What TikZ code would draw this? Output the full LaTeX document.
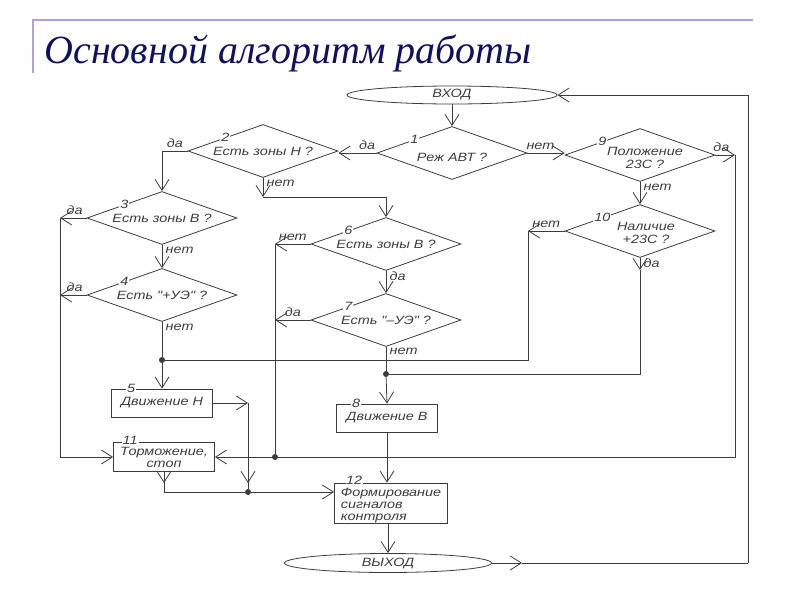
\documentclass[tikz,border=0pt]{standalone}
\usepackage{fontspec}
\setmainfont{Liberation Serif}
\newfontfamily\cadfont{Liberation Sans}[FakeStretch=1.2]
\usepackage{tikz}
\usetikzlibrary{arrows.meta,shapes.geometric}
\definecolor{titleblue}{RGB}{16,16,96}
\definecolor{rulepurple}{RGB}{178,160,226}
\definecolor{linegray}{RGB}{60,60,60}

\begin{document}
\begin{tikzpicture}[x=1pt,y=-1pt,->,>={Straight Barb[length=11pt,width=14pt]},
  line width=0.8pt,color=linegray,
  every node/.style={font=\cadfont\itshape\fontsize{12}{13}\selectfont},
  dec/.style={diamond,draw,align=center,minimum width=150pt,minimum height=53pt,inner sep=0pt,aspect=2.8},
  box/.style={rectangle,draw,align=center,minimum width=101pt,minimum height=28pt,inner sep=1pt},
  term/.style={ellipse,draw,minimum width=210pt,minimum height=18pt,inner sep=0pt},
  num/.style={fill=white,inner sep=1pt},
  dot/.style={circle,fill=linegray,inner sep=0pt,minimum size=6pt}]

  \useasboundingbox (0,0) rectangle (800,600);

  % title
  \draw[-,rulepurple,line width=1.5pt] (33,73) -- (33,20) -- (753,20);
  \node[anchor=base west,inner sep=0pt,text=titleblue,font=\rmfamily\itshape\fontsize{40}{46}\selectfont] (title) at (44,63) {Основной алгоритм работы};

  % blocks
  \node[term] (vhod) at (452,95) {ВХОД};
  \node[dec,label={[yshift=-4pt]center:Реж АВТ ?}] (d1) at (452,153) {};
  \node[dec] (d2) at (263,151) {Есть зоны Н ?};
  \node[dec] (d3) at (162,218) {Есть зоны В ?};
  \node[dec] (d4) at (162,295) {Есть "+УЭ" ?};
  \node[dec] (d6) at (386,244) {Есть зоны В ?};
  \node[dec] (d7) at (386,320) {Есть "–УЭ" ?};
  \node[dec,label={[align=center,xshift=5pt,yshift=-3pt]center:{Положение\\23С ?}}] (d9) at (640,155) {};
  \node[dec,label={[align=center,xshift=6pt,yshift=-2pt]center:{Наличие\\+23С ?}}] (d10) at (640,231) {};
  \node[box] (b5) at (162,403) {Движение Н};
  \node[box,minimum height=29pt,font=\cadfont\itshape\fontsize{12}{12}\selectfont] (b11) at (164,457) {Торможение,\\стоп};
  \node[box] (b8) at (387,418) {Движение В};
  \node[box,minimum width=113pt,minimum height=40pt,
    label={[align=left,yshift=-3pt,font=\cadfont\itshape\fontsize{12}{12}\selectfont]center:{Формирование\\сигналов\\контроля}}] (b12) at (391,503) {};
  \node[term,minimum width=207pt,minimum height=19pt] (vyhod) at (388,563) {ВЫХОД};

  % numbers
  \node[num] at (d1.north west) {1};
  \node[num] at (d2.north west) {2};
  \node[num] at (d3.north west) {3};
  \node[num] at (d4.north west) {4};
  \node[num] at (d6.north west) {6};
  \node[num] at (d7.north west) {7};
  \node[num] at (d9.north west) {9};
  \node[num] at (d10.north west) {10};
  \node[num,xshift=20pt] at (b5.north west) {5};
  \node[num,xshift=17pt,yshift=2pt] at (b11.north west) {11};
  \node[num,xshift=20pt] at (b8.north west) {8};
  \node[num,xshift=20pt,yshift=2pt,inner sep=0.5pt] at (b12.north west) {12};

  % junctions
  \node[dot] (j1) at (162,360) {};
  \node[dot] (j2) at (386,374) {};
  \node[dot] (j3) at (275,457) {};
  \node[dot] (j4) at (248,492) {};
  \coordinate (c2) at (263,197);
  \coordinate (cl) at (60,218);
  \coordinate (c6) at (275,244);
  \coordinate (c9) at (735,155);
  \coordinate (c10) at (528,231);
  \coordinate (c10b) at (640,270);
  \coordinate (c5) at (248,403);
  \coordinate (c11) at (164,492);
  \coordinate (c12) at (522,563);
  \coordinate (cr) at (748,563);

  % connectors
  \draw (vhod.south) -- (d1.north);
  \draw (d1.west) -- node[above,pos=0.25] {да} (d1.west -| d2.east);
  \draw (d1.east) -- node[above,pos=0.35] {нет} (d1.east -| d9.west);
  \draw (d2.west) -| node[above,pos=0.25] {да} (d3.north);
  \draw (d2.south) -- node[right,pos=0.3] {нет} (c2);
  \draw (c2) -| (d6.north);
  \draw (d3.west) -- node[above,pos=0.45] {да} (cl);
  \draw (cl) |- (b11.west);
  \draw (d3.south) -- node[right,pos=0.25] {нет} (d4.north);
  \draw (d4.west) -- node[above,pos=0.45] {да} (d4.west -| cl);
  \draw[-] (d4.south) -- node[right,pos=0.15] {нет} (j1);
  \draw (j1) -- (b5.north);
  \draw[-] (j1) -| (c10);
  \draw (d10.west) -- node[above,pos=0.5] {нет} (c10);
  \draw (d6.west) -- node[above,pos=0.5] {нет} (c6);
  \draw[-] (c6) -- (j3);
  \draw (d6.south) -- node[right,pos=0.25] {да} (d7.north);
  \draw (d7.west) -- node[above,pos=0.5] {да} (d7.west -| c6);
  \draw[-] (d7.south) -- node[right,pos=0.2] {нет} (j2);
  \draw (j2) -- (b8.north);
  \draw (d9.south) -- node[right,pos=0.25] {нет} (d10.north);
  \draw (d9.east) -- node[above,pos=0.3] {да} (c9);
  \draw (c9) |- (b11.east);
  \draw (d10.south) -- node[right,pos=0.4] {да} (c10b);
  \draw[-] (c10b) |- (j2);
  \draw (b5.east) -- (c5);
  \draw[-] (c5) -- (j4);
  \draw (c5) -- ([yshift=9pt]j4.center);
  \draw[-] (b11.south) -- (c11) -- (j4);
  \draw (b11.south) -- ([yshift=9pt]c11);
  \draw (j4) -- (j4 -| b12.west);
  \draw (b8.south) -- (b8.south |- b12.north);
  \draw (vyhod.north |- b12.south) -- (vyhod.north);
  \draw (vyhod.east) -- (c12);
  \draw[-] (c12) -- (cr);
  \draw (cr) |- (vhod.east);
\end{tikzpicture}
\end{document}
